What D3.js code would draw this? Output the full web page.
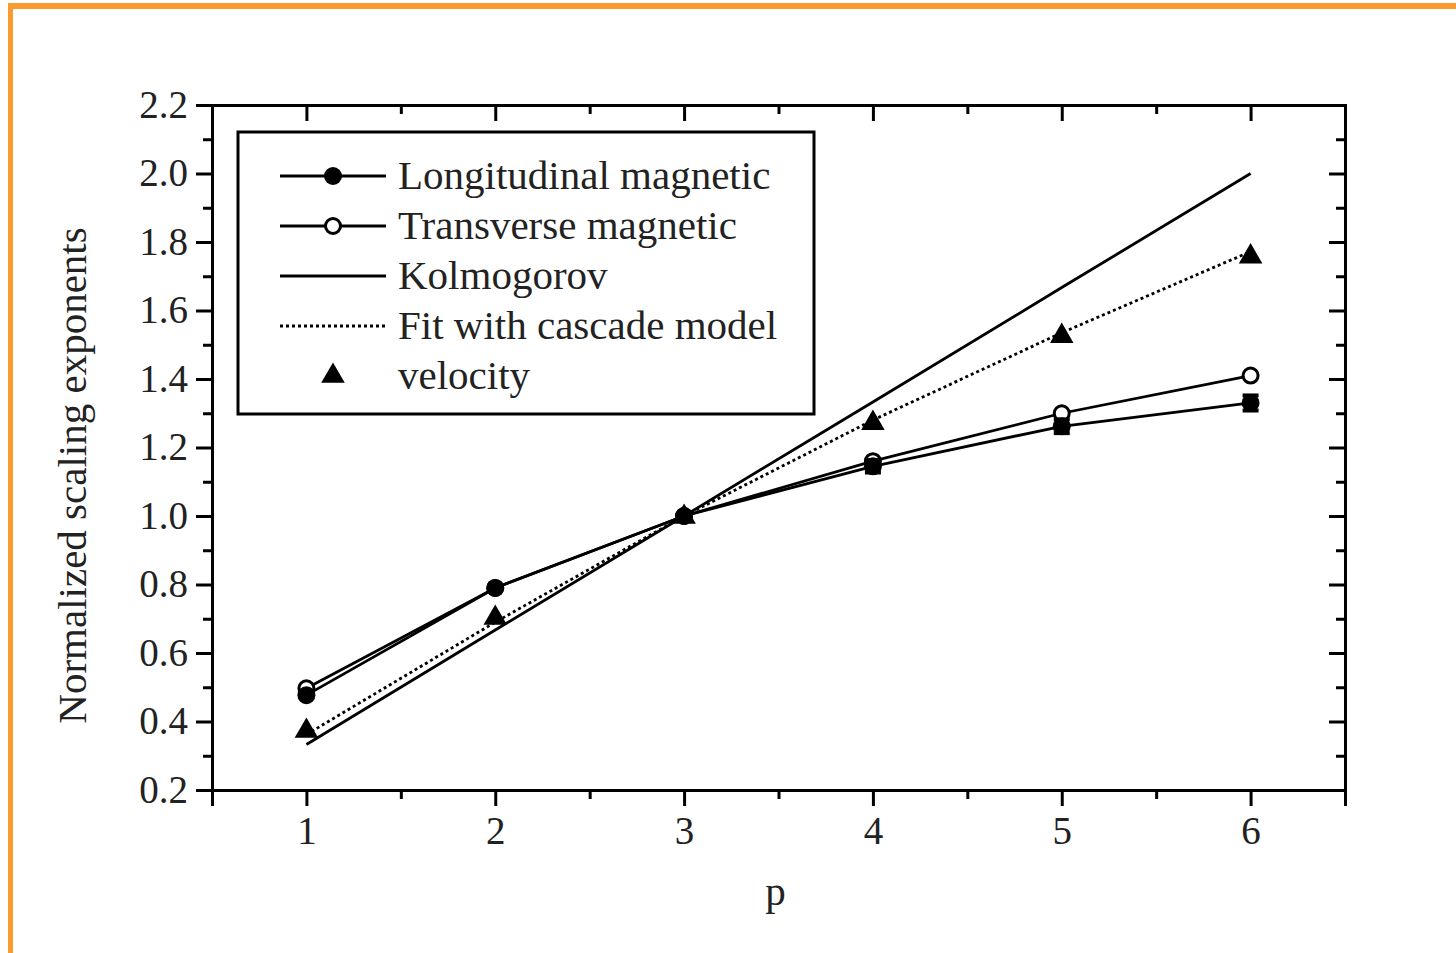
<!DOCTYPE html>
<html>
<head>
  <meta charset="utf-8">
  <title>Normalized scaling exponents</title>
  <script src="https://cdn.jsdelivr.net/npm/d3@7"></script>
  <style>
    body { margin: 0; background: #fff; }
    text { font-family: "Liberation Serif", "DejaVu Serif", serif; fill: #222; }
  </style>
</head>
<body>
<svg id="mainsvg" width="1456" height="953"></svg>
<script>
  // values
  const pValues = [1, 2, 3, 4, 5, 6];
  const longitudinal = [0.477, 0.79, 1.0, 1.145, 1.262, 1.33];
  const longErr = [0, 0, 0, 0.018, 0.02, 0.022];
  const transverse = [0.497, 0.79, 1.0, 1.16, 1.30, 1.41];
  const kolmogorov = [0.333, 0.667, 1.0, 1.333, 1.667, 2.0];
  const cascadeFit = [0.362, 0.69, 1.0, 1.28, 1.535, 1.772];
  const velocity = [0.375, 0.705, 1.0, 1.274, 1.528, 1.76];
  const yTicks = [0.2, 0.4, 0.6, 0.8, 1.0, 1.2, 1.4, 1.6, 1.8, 2.0, 2.2];
  const xTicks = [1, 2, 3, 4, 5, 6];
  const legendLabels = ['Longitudinal magnetic', 'Transverse magnetic', 'Kolmogorov', 'Fit with cascade model', 'velocity'];

  const svg = d3.select('#mainsvg');
  const pLeft = 212, pRight = 1345, pTop = 105, pBottom = 790;

  // orange frame (top and left only)
  svg.append('rect').attr('x', 8).attr('y', 3).attr('width', 1448).attr('height', 6).attr('fill', '#f99b2f');
  svg.append('rect').attr('x', 8).attr('y', 3).attr('width', 5).attr('height', 950).attr('fill', '#f99b2f');

  const x = d3.scaleLinear().domain([0.5, 6.5]).range([pLeft, pRight]);
  const y = d3.scaleLinear().domain([0.2, 2.2]).range([pBottom, pTop]);

  const minorX = d3.range(0.5, 6.51, 0.5).filter(d => d % 1 !== 0);
  const minorY = d3.range(0.3, 2.2, 0.2);

  function styleAxis(g) {
    g.select('.domain').attr('stroke', '#000').attr('stroke-width', 3);
    g.selectAll('.tick line').attr('stroke', '#000').attr('stroke-width', 3);
    g.selectAll('.tick text').attr('font-size', 39).attr('fill', '#222')
      .style('font-family', '"Liberation Serif", serif');
  }

  // bottom (ticks out)
  svg.append('g').attr('transform', `translate(0,${pBottom})`)
    .call(d3.axisBottom(x).tickValues(xTicks).tickSize(16).tickPadding(10).tickFormat(d3.format('d')))
    .call(styleAxis);
  svg.append('g').attr('transform', `translate(0,${pBottom})`)
    .call(d3.axisBottom(x).tickValues(minorX).tickSize(9).tickFormat(''))
    .call(styleAxis);
  // top (ticks in)
  svg.append('g').attr('transform', `translate(0,${pTop})`)
    .call(d3.axisTop(x).tickValues(xTicks).tickSize(-16).tickFormat(''))
    .call(styleAxis);
  svg.append('g').attr('transform', `translate(0,${pTop})`)
    .call(d3.axisTop(x).tickValues(minorX).tickSize(-9).tickFormat(''))
    .call(styleAxis);
  // left (ticks out)
  svg.append('g').attr('transform', `translate(${pLeft},0)`)
    .call(d3.axisLeft(y).tickValues(yTicks).tickSize(16).tickPadding(8).tickFormat(d3.format('.1f')))
    .call(styleAxis);
  svg.append('g').attr('transform', `translate(${pLeft},0)`)
    .call(d3.axisLeft(y).tickValues(minorY).tickSize(9).tickFormat(''))
    .call(styleAxis);
  // right (ticks in)
  svg.append('g').attr('transform', `translate(${pRight},0)`)
    .call(d3.axisRight(y).tickValues(yTicks).tickSize(-16).tickFormat(''))
    .call(styleAxis);
  svg.append('g').attr('transform', `translate(${pRight},0)`)
    .call(d3.axisRight(y).tickValues(minorY).tickSize(-9).tickFormat(''))
    .call(styleAxis);

  // axis titles
  svg.append('text')
    .attr('transform', `translate(86,${(pTop + pBottom) / 2 + 28}) rotate(-90)`)
    .attr('text-anchor', 'middle')
    .attr('font-size', 41)
    .text('Normalized scaling exponents');
  svg.append('text')
    .attr('x', (pLeft + pRight) / 2 - 3).attr('y', 905)
    .attr('text-anchor', 'middle')
    .attr('font-size', 41)
    .text('p');

  const line = d3.line().x((d, i) => x(pValues[i])).y(d => y(d));
  const plot = svg.append('g');

  function drawLine(vals, dash) {
    plot.append('path').datum(vals)
      .attr('d', line)
      .attr('fill', 'none')
      .attr('stroke', '#000')
      .attr('stroke-width', 2.8)
      .attr('stroke-dasharray', dash);
  }
  drawLine(kolmogorov, null);
  drawLine(cascadeFit, '3,3');
  drawLine(longitudinal, null);
  drawLine(transverse, null);

  const tri = d3.symbol().type(d3.symbolTriangle).size(240);

  // velocity triangles
  plot.selectAll('.vel').data(velocity).join('path')
    .attr('class', 'vel')
    .attr('d', tri)
    .attr('transform', (d, i) => `translate(${x(pValues[i])},${y(d) + 1})`)
    .attr('fill', '#000');

  // open circles first, filled ones drawn over them
  plot.selectAll('.tra').data(transverse).join('circle')
    .attr('class', 'tra')
    .attr('cx', (d, i) => x(pValues[i])).attr('cy', d => y(d))
    .attr('r', 7.5).attr('fill', '#fff').attr('stroke', '#000').attr('stroke-width', 3);

  // longitudinal error bars
  const errIdx = pValues.map((d, i) => i).filter(i => longErr[i] > 0);
  errIdx.forEach(i => {
    const cx = x(pValues[i]);
    const y0 = y(longitudinal[i] - longErr[i]), y1 = y(longitudinal[i] + longErr[i]);
    plot.append('line').attr('x1', cx).attr('x2', cx).attr('y1', y0).attr('y2', y1)
      .attr('stroke', '#000').attr('stroke-width', 3);
    [y0, y1].forEach(yy => plot.append('line')
      .attr('x1', cx - 8).attr('x2', cx + 8).attr('y1', yy).attr('y2', yy)
      .attr('stroke', '#000').attr('stroke-width', 4));
  });

  plot.selectAll('.lon').data(longitudinal).join('circle')
    .attr('class', 'lon')
    .attr('cx', (d, i) => x(pValues[i])).attr('cy', d => y(d))
    .attr('r', 9).attr('fill', '#000');

  // legend
  const lg = svg.append('g');
  lg.append('rect').attr('x', 238).attr('y', 132).attr('width', 576).attr('height', 282)
    .attr('fill', '#fff').attr('stroke', '#000').attr('stroke-width', 3);
  legendLabels.forEach((lab, i) => {
    const ly = 176 + i * 50;
    if (i < 4) {
      lg.append('line').attr('x1', 280).attr('x2', 386).attr('y1', ly).attr('y2', ly)
        .attr('stroke', '#000').attr('stroke-width', 2.8)
        .attr('stroke-dasharray', i === 3 ? '3,3' : null);
    }
    if (i === 0) {
      lg.append('circle').attr('cx', 333).attr('cy', ly).attr('r', 9).attr('fill', '#000');
    } else if (i === 1) {
      lg.append('circle').attr('cx', 333).attr('cy', ly).attr('r', 7.5)
        .attr('fill', '#fff').attr('stroke', '#000').attr('stroke-width', 3);
    } else if (i === 4) {
      lg.append('path').attr('d', tri).attr('transform', `translate(333,${ly})`).attr('fill', '#000');
    }
    lg.append('text').attr('x', 398).attr('y', ly + 13)
      .attr('font-size', 41)
      .text(lab);
  });
</script>
</body>
</html>
